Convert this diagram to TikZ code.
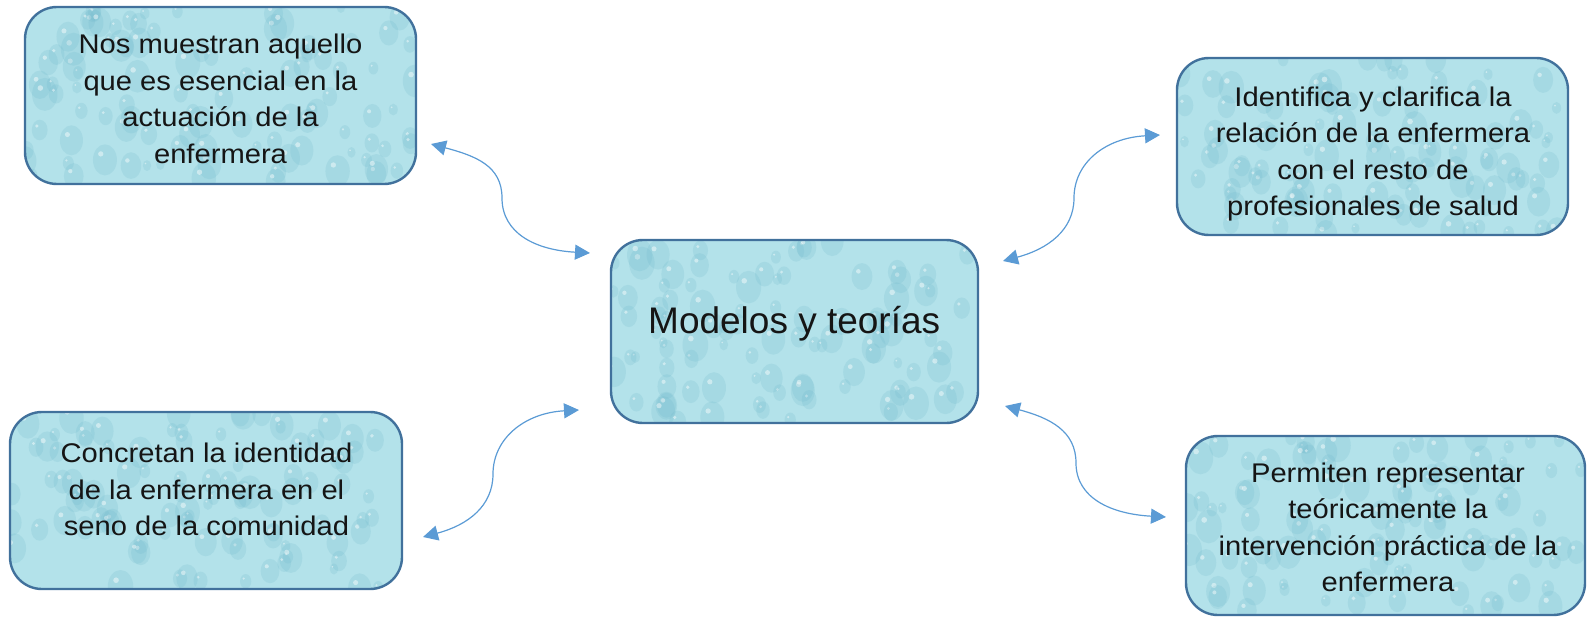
\documentclass[tikz,border=0pt]{standalone}
\usepackage{fontspec}
\setmainfont{Liberation Sans}
\newfontfamily\boxfont[FakeStretch=1.08]{Liberation Sans}
\usetikzlibrary{arrows.meta,calc}
\definecolor{boxfill}{HTML}{B3E2EA}
\definecolor{boxline}{HTML}{41719C}
\definecolor{dropdark}{HTML}{6DB7CA}
\definecolor{arrowblue}{HTML}{5B9BD5}
\definecolor{txt}{HTML}{151515}
\tikzset{
  drops/.style={path picture={
    \path (path picture bounding box.south west) coordinate (pp1)
          (path picture bounding box.north east) coordinate (pp2);
    \foreach \k in {1,...,100}{
      \pgfmathsetmacro\ax{rnd}
      \pgfmathsetmacro\ay{rnd}
      \pgfmathsetmacro\rr{4+9*rnd}
      \pgfmathsetmacro\ry{1.3*\rr}
      \pgfmathsetmacro\hr{0.22*\rr}
      \path ($(pp1)!\ax!(pp2)$) coordinate (qx) ($(pp1)!\ay!(pp2)$) coordinate (qy);
      \path (qx |- qy) coordinate (qq);
      \fill[dropdark, opacity=0.2] (qq) ellipse [x radius=\rr pt, y radius=\ry pt];
      \fill[white, opacity=0.45] ($(qq)+(-0.35*\rr,-0.5*\rr)$) circle [radius=\hr pt];
    }
  }},
  box/.style={draw=boxline, line width=2.4pt, fill=boxfill, rounded corners=32pt,
    inner sep=0pt, drops},
  boxtext/.style={align=center, text=txt, inner sep=0pt, anchor=north,
    font=\boxfont\fontsize{27}{36.5}\selectfont},
  conn/.style={draw=arrowblue, line width=1.2pt,
    {Triangle[length=15pt,width=15pt]}-{Triangle[length=15pt,width=15pt]}},
}
\begin{document}
\begin{tikzpicture}[x=1pt,y=-1pt]
\pgfmathsetseed{7}
\useasboundingbox (0,0) rectangle (1588,623);
% boxes
\node[box, minimum width=391pt, minimum height=177pt] (b1) at (220.5,95.5) {};
\node[box, minimum width=367pt, minimum height=183pt] (c) at (794.5,331.5) {};
\node[box, minimum width=391pt, minimum height=177pt] (b2) at (1372.5,146.5) {};
\node[box, minimum width=392pt, minimum height=177pt] (b3) at (206,500.5) {};
\node[box, minimum width=399pt, minimum height=179pt] (b4) at (1385.5,525.5) {};
% texts
\node[boxtext] (t1) at (220.5,33.9)
  {Nos muestran aquello\\que es esencial en la\\actuación de la\\enfermera};
\node[align=center, text=txt, inner sep=0pt, anchor=base,
      font=\fontsize{37}{44}\selectfont] (tc) at (794.2,333.3) {Modelos y teorías};
\node[boxtext] (t2) at (1373,86.3)
  {Identifica y clarifica la\\relación de la enfermera\\con el resto de\\profesionales de salud};
\node[boxtext] (t3) at (206.5,442.9)
  {Concretan la identidad\\de la enfermera en el\\seno de la comunidad};
\node[boxtext] (t4) at (1388,462.3)
  {Permiten representar\\teóricamente la\\intervención práctica de la\\enfermera};

\coordinate (a1s) at (431,144);
\coordinate (a1e) at (590,253);
\coordinate (a2s) at (1003,261);
\coordinate (a2e) at (1160,135);
\coordinate (a3s) at (423,537);
\coordinate (a3e) at (579,410);
\coordinate (a4s) at (1005,406);
\coordinate (a4e) at (1166,517);

\draw[conn] (a1s) .. controls +(45,12) and +(0,-32) .. (502,198)
                  .. controls +(0,35) and +(-55,-3) .. (a1e);
\draw[conn] (a2s) .. controls +(45,-12) and +(0,32) .. (1074,198)
                  .. controls +(0,-35) and +(-55,3) .. (a2e);
\draw[conn] (a3s) .. controls +(45,-12) and +(0,32) .. (493,474)
                  .. controls +(0,-35) and +(-55,3) .. (a3e);
\draw[conn] (a4s) .. controls +(45,12) and +(0,-32) .. (1076,463)
                  .. controls +(0,35) and +(-55,-3) .. (a4e);
\end{tikzpicture}
\end{document}
